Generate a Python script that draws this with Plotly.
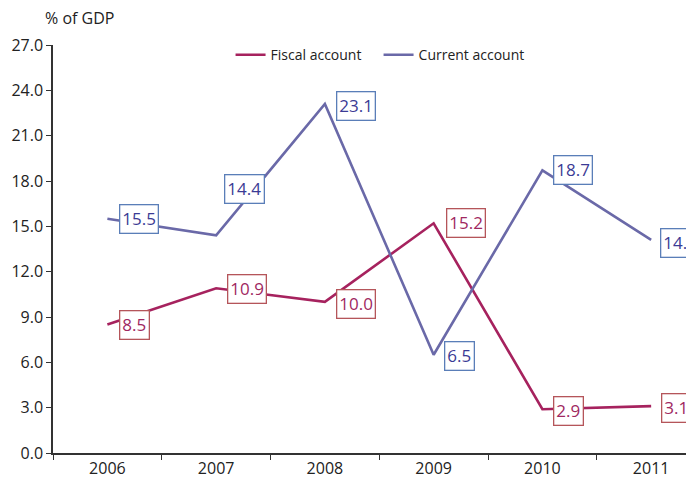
import plotly.graph_objects as go

years = ["2006", "2007", "2008", "2009", "2010", "2011"]
fiscal = [8.5, 10.9, 10.0, 15.2, 2.9, 3.1]
current = [15.5, 14.4, 23.1, 6.5, 18.7, 14.1]
y_ticks = [0, 3, 6, 9, 12, 15, 18, 21, 24, 27]

FONT = "Open Sans"
fis_line = "#A6225E"
cur_line = "#6A69A8"
fis_text = "#A0285F"
fis_border = "#B5555A"
cur_text = "#3B3B95"
cur_border = "#5A7EB8"

fig = go.Figure()
fig.add_trace(go.Scatter(x=years, y=fiscal, mode="lines", name="Fiscal account",
                         line=dict(color=fis_line, width=2.6)))
fig.add_trace(go.Scatter(x=years, y=current, mode="lines", name="Current account",
                         line=dict(color=cur_line, width=2.6)))

# label offsets (pixels) relative to each point
fis_shift = [(12, 0), (11, -1), (11, -2), (12, 0), (11, -2), (10, -2)]
cur_shift = [(12, 0), (8, 46), (11, -2), (10, -1), (11, 0), (9, -3)]

anns = []
for i, (v, (dx, dy)) in enumerate(zip(fiscal, fis_shift)):
    anns.append(dict(x=i, y=v, xref="x", yref="y", text=f"{v:.1f}", showarrow=False,
                     xanchor="left", yanchor="middle", xshift=dx, yshift=dy,
                     font=dict(family=FONT, size=17, color=fis_text),
                     bgcolor="white", bordercolor=fis_border, borderwidth=1.3, borderpad=2))
for i, (v, (dx, dy)) in enumerate(zip(current, cur_shift)):
    anns.append(dict(x=i, y=v, xref="x", yref="y", text=f"{v:.1f}", showarrow=False,
                     xanchor="left", yanchor="middle", xshift=dx, yshift=dy,
                     font=dict(family=FONT, size=17, color=cur_text),
                     bgcolor="white", bordercolor=cur_border, borderwidth=1.3, borderpad=2))
anns.append(dict(x=-0.016, y=1.066, xref="paper", yref="paper", text="% of GDP",
                 showarrow=False, xanchor="left", yanchor="middle",
                 font=dict(family=FONT, size=16, color="#222")))

fig.update_layout(
    width=686, height=472,
    margin=dict(l=45, r=0, t=37, b=27),
    paper_bgcolor="white", plot_bgcolor="white",
    font=dict(family=FONT, size=16, color="#222"),
    showlegend=True,
    legend=dict(orientation="h", x=0.277, y=0.975, xanchor="left", yanchor="middle",
                entrywidth=103, entrywidthmode="pixels",
                font=dict(family=FONT, size=14, color="#222"), bgcolor="rgba(0,0,0,0)"),
    annotations=anns,
    xaxis=dict(type="category", range=[-0.5, 5.394], tickson="boundaries",
               ticks="outside", ticklen=5, tickcolor="#333", tickwidth=1.3,
               showline=True, linecolor="#333", linewidth=1.5, showgrid=False,
               zeroline=False, tickfont=dict(family=FONT, size=16, color="#222")),
    yaxis=dict(range=[0, 27], tickvals=y_ticks, ticktext=[f"{t:.1f}" for t in y_ticks],
               ticks="outside", ticklen=5, tickcolor="#333", tickwidth=1.3,
               showline=True, linecolor="#333", linewidth=1.5, showgrid=False,
               zeroline=False, tickfont=dict(family=FONT, size=16, color="#222")),
)

fig.write_html("out.html")
